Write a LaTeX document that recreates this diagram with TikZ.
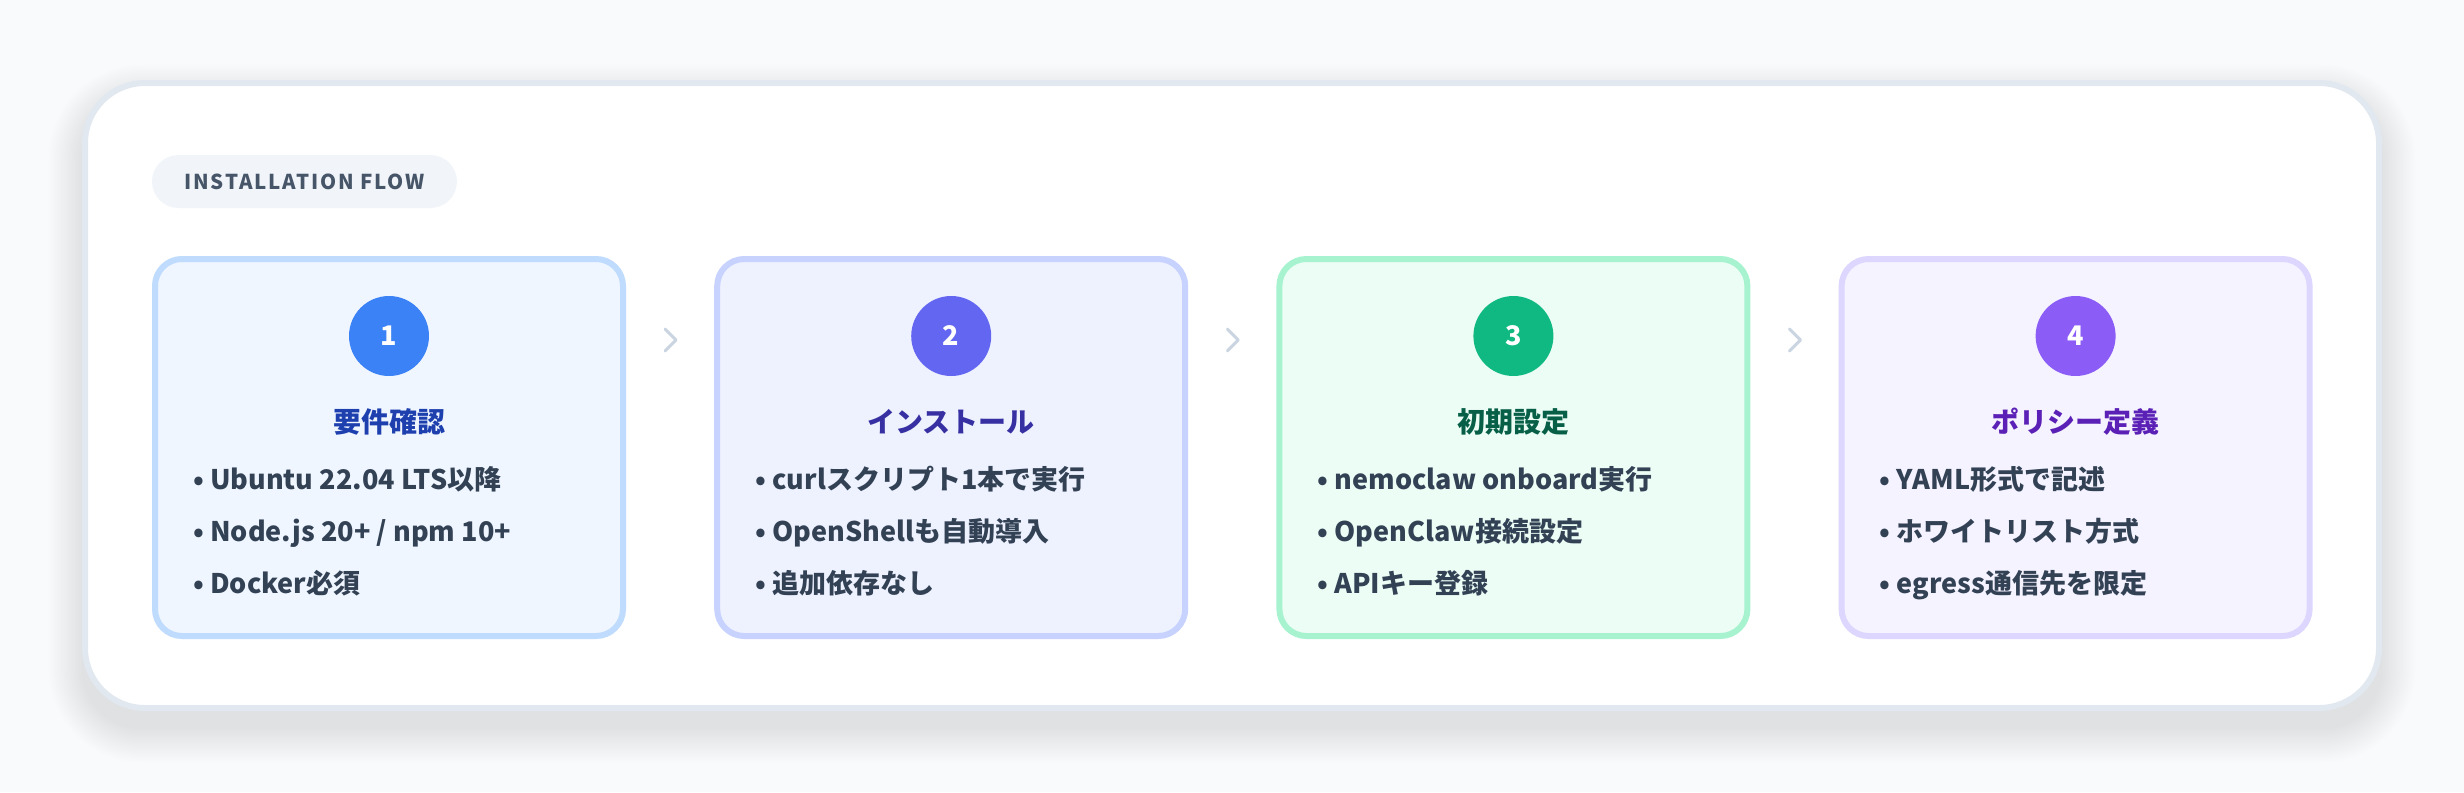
\documentclass[tikz,border=0pt]{standalone}
\usepackage{fontspec}
\setmainfont{Noto Sans CJK JP}
\usetikzlibrary{calc}
\definecolor{pagebg}{HTML}{F8FAFC}
\definecolor{outerline}{HTML}{E2E8F0}
\definecolor{badgebg}{HTML}{F1F5F9}
\definecolor{badgetxt}{HTML}{475569}
\definecolor{bodytxt}{HTML}{334155}
\definecolor{chevcol}{HTML}{CBD5E1}
\definecolor{fillA}{HTML}{EFF6FF}\definecolor{lineA}{HTML}{BFDBFE}\definecolor{dotA}{HTML}{3B82F6}\definecolor{titA}{HTML}{1E40AF}
\definecolor{fillB}{HTML}{EEF2FF}\definecolor{lineB}{HTML}{C7D2FE}\definecolor{dotB}{HTML}{6366F1}\definecolor{titB}{HTML}{3730A3}
\definecolor{fillC}{HTML}{ECFDF5}\definecolor{lineC}{HTML}{A7F3D0}\definecolor{dotC}{HTML}{10B981}\definecolor{titC}{HTML}{065F46}
\definecolor{fillD}{HTML}{F5F3FF}\definecolor{lineD}{HTML}{DDD6FE}\definecolor{dotD}{HTML}{8B5CF6}\definecolor{titD}{HTML}{5B21B6}
\tikzset{
  stepcard/.style={draw=#1, line width=6pt, rounded corners=27pt, minimum width=468pt, minimum height=377pt, inner sep=0pt, outer sep=0pt},
  stepdot/.style={circle, fill=#1, minimum size=80pt, inner sep=0pt, text=white, font=\fontsize{27}{32}\selectfont\bfseries},
  steptitle/.style={text=#1, font=\fontsize{28}{34}\selectfont\bfseries, anchor=base, inner sep=0pt},
  bul/.style={text=bodytxt, font=\fontsize{27}{32}\selectfont\bfseries, anchor=base west, inner sep=0pt},
  chev/.style={draw=chevcol, line width=3pt, line cap=round, line join=round},
}
\newcommand{\stepblock}[8]{%
  \node[stepcard=#4, fill=#3] (#1) at (#2,447.5) {};
  \node[stepdot=#5] (#1n) at (#2,336) {#7};
  \node[steptitle=#6] (#1t) at (#2,432) {#8};
}
\begin{document}
\begin{tikzpicture}[x=1pt,y=-1pt]
\useasboundingbox (0,0) rectangle (2464,792);
\fill[pagebg] (0,0) rectangle (2464,792);
% soft shadow
\foreach \i in {0,...,24}{
  \fill[black, opacity=0.0036, rounded corners={60pt+1.4pt*\i}]
    ({82-1.4*\i},{98-1.4*\i}) rectangle ({2382+1.4*\i},{729+1.4*\i});
}
% outer panel
\node[draw=outerline, line width=6pt, fill=white, rounded corners=60pt, minimum width=2294pt, minimum height=625pt, inner sep=0pt] (panel) at (1232,395.5) {};
% badge
\node[fill=badgebg, rounded corners=26.5pt, minimum width=305pt, minimum height=53pt, inner sep=0pt, text=badgetxt,
  font=\fontsize{20.5}{24}\selectfont\bfseries\addfontfeatures{LetterSpace=9}] (badge) at (304.5,181.5) {INSTALLATION FLOW};
% cards
\stepblock{s1}{389}{fillA}{lineA}{dotA}{titA}{1}{要件確認}
\stepblock{s2}{951.2}{fillB}{lineB}{dotB}{titB}{2}{インストール}
\stepblock{s3}{1513.4}{fillC}{lineC}{dotC}{titC}{3}{初期設定}
\stepblock{s4}{2075.6}{fillD}{lineD}{dotD}{titD}{4}{ポリシー定義}
% bullets
\node[bul] (s1a) at ($(s1.west)+(38,41.5)$) {• Ubuntu 22.04 LTS以降};
\node[bul] (s1b) at ($(s1.west)+(38,93.5)$) {• Node.js 20+ / npm 10+};
\node[bul] (s1c) at ($(s1.west)+(38,145.5)$) {• Docker必須};
\node[bul] (s2a) at ($(s2.west)+(38,41.5)$) {• curlスクリプト1本で実行};
\node[bul] (s2b) at ($(s2.west)+(38,93.5)$) {• OpenShellも自動導入};
\node[bul] (s2c) at ($(s2.west)+(38,145.5)$) {• 追加依存なし};
\node[bul] (s3a) at ($(s3.west)+(38,41.5)$) {• nemoclaw onboard実行};
\node[bul] (s3b) at ($(s3.west)+(38,93.5)$) {• OpenClaw接続設定};
\node[bul] (s3c) at ($(s3.west)+(38,145.5)$) {• APIキー登録};
\node[bul] (s4a) at ($(s4.west)+(38,41.5)$) {• YAML形式で記述};
\node[bul] (s4b) at ($(s4.west)+(38,93.5)$) {• ホワイトリスト方式};
\node[bul] (s4c) at ($(s4.west)+(38,145.5)$) {• egress通信先を限定};
% chevrons between cards
\coordinate (g1) at ($(s1.east)!0.5!(s2.west)+(0,-107.5)$);
\coordinate (g2) at ($(s2.east)!0.5!(s3.west)+(0,-107.5)$);
\coordinate (g3) at ($(s3.east)!0.5!(s4.west)+(0,-107.5)$);
\foreach \g in {g1,g2,g3}{
  \draw[chev] ($(\g)+(-5,-11)$) -- ($(\g)+(6,0)$) -- ($(\g)+(-5,11)$);
}
\end{tikzpicture}
\end{document}
